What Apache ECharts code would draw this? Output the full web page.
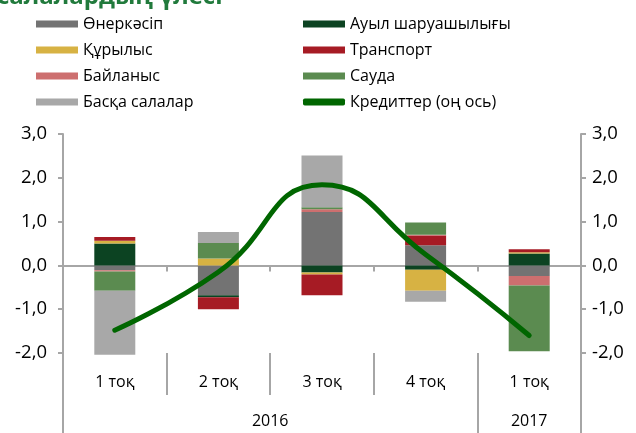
<!DOCTYPE html>
<html>
<head>
<meta charset="utf-8">
<script src="https://cdn.jsdelivr.net/npm/echarts@6/dist/echarts.min.js"></script>
<style>html,body{margin:0;padding:0;background:#fff}#c{width:636px;height:433px}</style>
</head>
<body>
<div id="c"></div>
<script>
const titleText = 'салалардың үлесі';
const categories = ['1 тоқ', '2 тоқ', '3 тоқ', '4 тоқ', '1 тоқ'];
const years = ['2016', '2017'];
const yearSpans = [4, 1];
const yTicks = [-2, -1, 0, 1, 2, 3];

const industry      = [-0.11, -0.68,  1.22,  0.46, -0.24]; // Өнеркәсіп
const agriculture   = [ 0.50, -0.05, -0.16, -0.10,  0.27]; // Ауыл шаруашылығы
const construction  = [ 0.06,  0.16, -0.05, -0.48,  0.03]; // Құрылыс
const transport     = [ 0.09, -0.27, -0.47,  0.22,  0.07]; // Транспорт
const communication = [-0.03,  0.00,  0.06,  0.02, -0.22]; // Байланыс
const trade         = [-0.44,  0.35,  0.05,  0.28, -1.50]; // Сауда
const other         = [-1.46,  0.25,  1.18, -0.25,  0.00]; // Басқа салалар
const credits       = [-1.48, -0.15,  1.84,  0.25, -1.60]; // Кредиттер (оң ось)

const names = ['Өнеркәсіп', 'Ауыл шаруашылығы', 'Құрылыс', 'Транспорт', 'Байланыс', 'Сауда', 'Басқа салалар'];
const barData = [industry, agriculture, construction, transport, communication, trade, other];
const colors = ['#737373', '#0c4322', '#d7b243', '#a61b24', '#cd6f6f', '#5b8b50', '#a8a8a8'];
const lineName = 'Кредиттер (оң ось)';

// year boundaries / centers derived from spans
const yearBounds = [0];
const yearCenters = [];
yearSpans.forEach((s, i) => { yearCenters.push(yearBounds[i] + s / 2); yearBounds.push(yearBounds[i] + s); });

const FONT = 'Open Sans';
const axisColor = '#a6a6a6';
const fmt = v => v.toFixed(1).replace('.', ',');

const series = names.map((n, i) => ({
  name: n, type: 'bar', stack: 'total', barWidth: 41, clip: false,
  xAxisIndex: 0, yAxisIndex: 0,
  itemStyle: { color: colors[i] },
  data: barData[i]
}));
series.push({
  name: lineName, type: 'line', smooth: 0.5, symbol: 'none',
  xAxisIndex: 0, yAxisIndex: 1,
  itemStyle: { color: '#006600' },
  lineStyle: { color: '#006600', width: 5, cap: 'round' },
  data: credits, z: 5
});

const legendText = { fontSize: 16, fontFamily: FONT, color: '#000' };
const option = {
  animation: false,
  title: { text: titleText, left: -3, top: -15, padding: 0,
    textStyle: { fontSize: 24, fontWeight: 'bold', color: '#217a3c', fontFamily: FONT } },
  legend: [
    { orient: 'vertical', left: 36, top: 16, itemWidth: 42, itemHeight: 7, itemGap: 10, padding: 0,
      icon: 'rect', textStyle: legendText,
      data: [names[0], names[2], names[4], names[6]] },
    { orient: 'vertical', left: 303, top: 16, itemWidth: 42, itemHeight: 7, itemGap: 10, padding: 0,
      icon: 'rect', textStyle: legendText,
      data: [names[1], names[3], names[5], { name: lineName, icon: 'roundRect' }] }
  ],
  grid: { left: 63, right: 55, top: 134, bottom: 80 },
  xAxis: [
    { type: 'category', data: categories, position: 'bottom',
      axisLine: { onZero: true, lineStyle: { color: axisColor, width: 2 } },
      axisTick: { show: true, length: 6, lineStyle: { color: axisColor, width: 2 } },
      axisLabel: { show: false }, splitLine: { show: false } },
    { type: 'category', data: categories, position: 'bottom',
      axisLine: { show: false, onZero: false },
      axisTick: { show: true, length: 42, lineStyle: { color: axisColor, width: 2 } },
      axisLabel: { margin: 21, fontSize: 16, fontFamily: FONT, color: '#000' }, splitLine: { show: false } },
    { type: 'value', min: 0, max: yearBounds[yearBounds.length - 1], position: 'bottom',
      axisLine: { show: false, onZero: false }, splitLine: { show: false },
      axisTick: { show: true, customValues: yearBounds, length: 80, lineStyle: { color: axisColor, width: 2 } },
      axisLabel: { customValues: yearCenters, margin: 60, fontSize: 16, fontFamily: FONT, color: '#000',
        formatter: v => { const i = yearCenters.findIndex(c => Math.abs(c - v) < 1e-6); return i >= 0 ? years[i] : ''; } } }
  ],
  yAxis: [
    { type: 'value', min: yTicks[0], max: yTicks[yTicks.length - 1], interval: 1, position: 'left',
      axisLine: { show: true, lineStyle: { color: axisColor, width: 2 } },
      axisTick: { show: true, length: 5, lineStyle: { color: axisColor, width: 2 } },
      splitLine: { show: false },
      axisLabel: { formatter: fmt, fontSize: 18.5, fontFamily: FONT, color: '#000', margin: 16 } },
    { type: 'value', min: yTicks[0], max: yTicks[yTicks.length - 1], interval: 1, position: 'right',
      axisLine: { show: true, lineStyle: { color: axisColor, width: 2 } },
      axisTick: { show: true, length: 5, lineStyle: { color: axisColor, width: 2 } },
      splitLine: { show: false },
      axisLabel: { formatter: fmt, fontSize: 18.5, fontFamily: FONT, color: '#000', margin: 11 } }
  ],
  series: series
};
echarts.init(document.getElementById('c'), null, { renderer: 'canvas' }).setOption(option);
</script>
</body>
</html>
